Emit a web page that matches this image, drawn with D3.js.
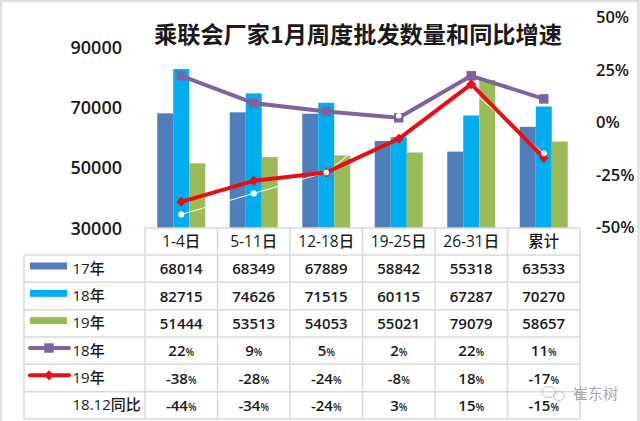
<!DOCTYPE html>
<html>
<head>
<meta charset="utf-8">
<script src="https://cdn.jsdelivr.net/npm/d3@7"></script>
<style>
  html, body { margin: 0; padding: 0; background: #fff; }
  svg { display: block; }
  text { font-family: "Open Sans", "Noto Sans CJK SC", sans-serif; fill: #1a1a1a; }
</style>
</head>
<body>
<svg id="chart" width="640" height="421"></svg>
<script>
const periods = ["1-4日", "5-11日", "12-18日", "19-25日", "26-31日", "累计"];
const volume = [
    {name: "17年", color: "#4f7fbb", values: [68014, 68349, 67889, 58842, 55318, 63533]},
    {name: "18年", color: "#00aeef", values: [82715, 74626, 71515, 60115, 67287, 70270]},
    {name: "19年", color: "#9bbb59", values: [51444, 53513, 54053, 55021, 79079, 58657]}
];
const growth = [
    {name: "18年", color: "#7f63a1", values: [22, 9, 5, 2, 22, 11]},
    {name: "19年", color: "#ee0c14", values: [-38, -28, -24, -8, 18, -17]},
    {name: "18.12同比", color: "#ffffff", values: [-44, -34, -24, 3, 15, -15]}
];

let svg = d3.select("#chart");

// Grey frame of the pasted image
svg.append("path")
    .attr("d", "M1,421V1H638.5V421")
    .attr("fill", "none")
    .attr("stroke", "#dedede")
    .attr("stroke-width", 2.5);

// Scales shared by the plot and the table
let x = d3.scaleBand().domain(periods).range([145, 580]);
let x_group = d3.scaleBand().domain([0, 1, 2]).range([0, 48]);
let y_left = d3.scaleLinear().domain([30000, 90000]).range([228, 47]);
let y_right = d3.scaleLinear().domain([-50, 50]).range([227, 17]);
let rows = d3.scaleBand().domain(d3.range(6)).range([255, 419]);

// Title
svg.append("text")
    .attr("x", 358).attr("y", 43)
    .attr("text-anchor", "middle")
    .attr("font-size", 23.2)
    .attr("font-weight", 700)
    .style("font-family", '"Noto Sans CJK SC", sans-serif')
    .text("乘联会厂家1月周度批发数量和同比增速");

// Axes, labels only
let left_axis = svg.append("g")
    .attr("transform", "translate(122,0)")
    .call(d3.axisLeft(y_left).tickValues([30000, 50000, 70000, 90000]).tickFormat(d3.format("d")).tickSize(0).tickPadding(0));
let right_axis = svg.append("g")
    .attr("transform", "translate(596,0)")
    .call(d3.axisRight(y_right).tickValues([-50, -25, 0, 25, 50]).tickFormat(d => d + "%").tickSize(0).tickPadding(0));
[left_axis, right_axis].forEach(axis => {
    axis.select(".domain").remove();
    axis.attr("font-family", null).attr("font-size", null);
    axis.selectAll("text").attr("font-size", 18).attr("font-weight", 600);
});
left_axis.selectAll("text").attr("dy", "0.34em");
right_axis.selectAll("text").attr("font-size", 16.5).attr("dy", "0.34em");

// Bars
volume.forEach((series, i) => {
    svg.append("g").selectAll("rect")
        .data(series.values)
        .join("rect")
        .attr("x", (d, j) => x(periods[j]) + (x.bandwidth() - 48) / 2 + x_group(i))
        .attr("y", d => y_left(d))
        .attr("width", x_group.bandwidth())
        .attr("height", d => y_left(30000) - y_left(d))
        .attr("fill", series.color);
});

// Growth lines
let line = d3.line()
    .x((d, j) => x(periods[j]) + x.bandwidth() / 2)
    .y(d => y_right(d));

let line_width = [4, 4, 1];
let symbols = [d3.symbolSquare, d3.symbolSquare, d3.symbolCircle];
let symbol_size = [90, 50, 28];
let symbol_turn = [0, 45, 0];
[2, 0, 1].forEach(i => {
    let series = growth[i];
    svg.append("path")
        .attr("d", line(series.values))
        .attr("fill", "none")
        .attr("stroke", series.color)
        .attr("stroke-width", line_width[i])
        .attr("stroke-linejoin", "round");
    svg.append("g").selectAll("path")
        .data(series.values)
        .join("path")
        .attr("transform", (d, j) => `translate(${x(periods[j]) + x.bandwidth() / 2},${y_right(d)}) rotate(${symbol_turn[i]})`)
        .attr("d", d3.symbol().type(symbols[i]).size(symbol_size[i]))
        .attr("fill", series.color);
});

// White dots sit on top of the red line, except where red hides it at 26-31日
svg.append("g").selectAll("circle")
    .data(growth[2].values.map((d, j) => ({period: periods[j], value: d})).filter(d => d.period != "26-31日"))
    .join("circle")
    .attr("cx", d => x(d.period) + x.bandwidth() / 2)
    .attr("cy", d => y_right(d.value))
    .attr("r", 2.8)
    .attr("fill", "#fff");

// Data table grid
let grid = svg.append("g").attr("stroke", "#d9d9d9").attr("stroke-width", 1.5);
grid.selectAll(".col")
    .data(d3.range(7))
    .join("line")
    .attr("x1", d => 145 + d * x.bandwidth()).attr("x2", d => 145 + d * x.bandwidth())
    .attr("y1", 228).attr("y2", 419);
grid.selectAll(".row")
    .data(d3.range(7))
    .join("line")
    .attr("x1", 24).attr("x2", 580)
    .attr("y1", d => 255 + d * rows.bandwidth()).attr("y2", d => 255 + d * rows.bandwidth());
grid.append("line").attr("x1", 145).attr("x2", 580).attr("y1", 228).attr("y2", 228);
grid.append("line").attr("x1", 24).attr("x2", 24).attr("y1", 255).attr("y2", 419);

// Header row
svg.append("g").selectAll("text")
    .data(periods)
    .join("text")
    .attr("x", d => x(d) + x.bandwidth() / 2)
    .attr("y", 247)
    .attr("text-anchor", "middle")
    .attr("font-size", 15.5)
    .attr("font-weight", 500)
    .text(d => d);

// Table rows: volumes first, then growth rates with a small percent sign
let table = volume.concat(growth);
table.forEach((series, i) => {
    let row_mid = rows(i) + rows.bandwidth() / 2;
    svg.append("g").selectAll("text")
        .data(series.values)
        .join("text")
        .attr("x", (d, j) => x(periods[j]) + x.bandwidth() / 2)
        .attr("y", row_mid + 5.5)
        .attr("text-anchor", "middle")
        .attr("font-size", 15)
        .attr("font-weight", 600)
        .each(function(d) {
            d3.select(this).append("tspan").text(d);
            if (i > 2) d3.select(this).append("tspan").attr("font-size", 10).text("%");
        });
    svg.append("text")
        .attr("x", 72.5)
        .attr("y", row_mid + 5)
        .attr("font-size", 15)
        .attr("font-weight", 500)
        .text(series.name);
});

// Legend keys inside the table
volume.forEach((series, i) => {
    svg.append("rect")
        .attr("x", 30).attr("y", rows(i) + 7.5)
        .attr("width", 37).attr("height", 7)
        .attr("fill", series.color);
});
growth.slice(0, 2).forEach((series, i) => {
    let key_y = rows(i + 3) + 11;
    svg.append("line")
        .attr("x1", 30).attr("x2", 69)
        .attr("y1", key_y).attr("y2", key_y)
        .attr("stroke", series.color)
        .attr("stroke-width", 4)
        .attr("stroke-linecap", "round");
    svg.append("path")
        .attr("transform", `translate(49,${key_y}) rotate(${symbol_turn[i]})`)
        .attr("d", d3.symbol().type(symbols[i]).size(symbol_size[i]))
        .attr("fill", series.color);
});

// Watermark
let mark = svg.append("g").attr("opacity", 0.75);
mark.append("ellipse").attr("cx", 549).attr("cy", 392).attr("rx", 7).attr("ry", 5.5)
    .attr("fill", "none").attr("stroke", "#b5b5b5");
mark.append("ellipse").attr("cx", 559).attr("cy", 396).attr("rx", 5.5).attr("ry", 4.5)
    .attr("fill", "none").attr("stroke", "#b5b5b5");
mark.append("text")
    .attr("x", 573).attr("y", 399)
    .attr("font-size", 15)
    .style("font-family", '"Noto Sans CJK SC", sans-serif')
    .style("fill", "#8c8c8c")
    .text("崔东树");
</script>
</body>
</html>
